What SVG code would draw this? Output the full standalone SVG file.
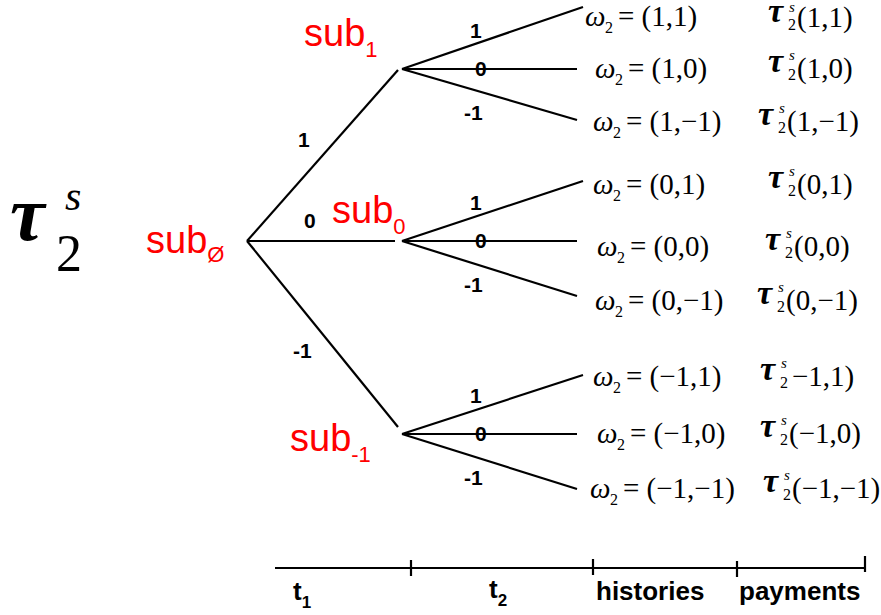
<svg xmlns="http://www.w3.org/2000/svg" width="881" height="615" viewBox="0 0 881 615">
<style>
.e{stroke:#000;stroke-width:2.2;fill:none}
.red{fill:#f00;font-family:"Liberation Sans",Arial,sans-serif;font-size:38px}
.rsub{font-size:22px}
.bl{font-family:"Liberation Sans",Arial,sans-serif;font-weight:bold;font-size:21px;fill:#000}
.tl{font-family:"Liberation Sans",Arial,sans-serif;font-weight:bold;font-size:26px;fill:#000}
.m{font-family:"Liberation Serif","Times New Roman",serif;font-size:29px;fill:#000}
.mi{font-style:italic}
.ms{font-size:16px;font-style:normal}
.tau{font-family:"Liberation Serif","Times New Roman",serif;font-style:italic;font-weight:bold;font-size:34px}
.ss{font-family:"Liberation Serif","Times New Roman",serif;font-style:italic;font-size:15px}
.big{font-family:"Liberation Serif","Times New Roman",serif}
</style>
<g id="title">
<text class="big" x="10" y="240" font-style="italic" font-weight="bold" font-size="78">τ</text>
<text class="big" x="65" y="210" font-style="italic" font-size="42">s</text>
<text class="big" x="56" y="271" font-size="52">2</text>
</g>
<g id="connectors">
<line class="e" x1="247" y1="241" x2="398" y2="70"/>
<line class="e" x1="247" y1="241" x2="395" y2="241"/>
<line class="e" x1="247" y1="241" x2="398" y2="427"/>
<line class="e" x1="402" y1="69" x2="583" y2="7"/>
<line class="e" x1="402" y1="69" x2="577" y2="69"/>
<line class="e" x1="402" y1="69" x2="577" y2="120"/>
<line class="e" x1="402" y1="241" x2="583" y2="181"/>
<line class="e" x1="402" y1="241" x2="577" y2="241"/>
<line class="e" x1="402" y1="241" x2="577" y2="296"/>
<line class="e" x1="402" y1="434" x2="583" y2="375"/>
<line class="e" x1="402" y1="434" x2="577" y2="434"/>
<line class="e" x1="402" y1="434" x2="577" y2="489"/>
</g>
<g id="edge-labels">
<text class="bl" x="298" y="147">1</text>
<text class="bl" x="304" y="228">0</text>
<text class="bl" x="293" y="358">-1</text>
<text class="bl" x="470" y="38">1</text>
<text class="bl" x="475" y="76">0</text>
<text class="bl" x="464" y="120">-1</text>
<text class="bl" x="470" y="210">1</text>
<text class="bl" x="475" y="248">0</text>
<text class="bl" x="464" y="292">-1</text>
<text class="bl" x="470" y="403">1</text>
<text class="bl" x="475" y="441">0</text>
<text class="bl" x="464" y="485">-1</text>
</g>
<g id="node-root"><text class="red" x="146" y="253">sub<tspan class="rsub" dy="9">Ø</tspan></text></g>
<g id="node-sub1"><text class="red" x="304" y="46">sub<tspan class="rsub" dy="11">1</tspan></text></g>
<g id="node-sub0"><text class="red" x="332" y="223">sub<tspan class="rsub" dy="11">0</tspan></text></g>
<g id="node-subm1"><text class="red" x="290" y="451">sub<tspan class="rsub" dy="11">-1</tspan></text></g>
<g id="leaves">
<g id="leaf-1-1"><text class="m mi" x="585" y="26">ω</text><text class="m ms" x="605" y="33">2</text><text class="m" x="618" y="26">= (1,1)</text>
<text class="tau" x="768" y="22">τ</text><text class="ss" x="789" y="12">s</text><text class="m ms" x="788" y="30">2</text><text class="m" x="797" y="27">(1,1)</text></g>
<g id="leaf-1-0"><text class="m mi" x="595" y="78">ω</text><text class="m ms" x="615" y="85">2</text><text class="m" x="628" y="78">= (1,0)</text>
<text class="tau" x="768" y="72">τ</text><text class="ss" x="789" y="60">s</text><text class="m ms" x="788" y="80">2</text><text class="m" x="797" y="78">(1,0)</text></g>
<g id="leaf-1-m1"><text class="m mi" x="593" y="131">ω</text><text class="m ms" x="613" y="138">2</text><text class="m" x="626" y="131">= (1,−1)</text>
<text class="tau" x="758" y="125">τ</text><text class="ss" x="779" y="113">s</text><text class="m ms" x="778" y="133">2</text><text class="m" x="787" y="131">(1,−1)</text></g>
<g id="leaf-0-1"><text class="m mi" x="593" y="194">ω</text><text class="m ms" x="613" y="201">2</text><text class="m" x="626" y="194">= (0,1)</text>
<text class="tau" x="768" y="188">τ</text><text class="ss" x="789" y="176">s</text><text class="m ms" x="788" y="196">2</text><text class="m" x="797" y="194">(0,1)</text></g>
<g id="leaf-0-0"><text class="m mi" x="597" y="256">ω</text><text class="m ms" x="617" y="263">2</text><text class="m" x="630" y="256">= (0,0)</text>
<text class="tau" x="765" y="250">τ</text><text class="ss" x="786" y="238">s</text><text class="m ms" x="785" y="258">2</text><text class="m" x="794" y="256">(0,0)</text></g>
<g id="leaf-0-m1"><text class="m mi" x="595" y="310">ω</text><text class="m ms" x="615" y="317">2</text><text class="m" x="628" y="310">= (0,−1)</text>
<text class="tau" x="757" y="304">τ</text><text class="ss" x="778" y="292">s</text><text class="m ms" x="777" y="312">2</text><text class="m" x="786" y="310">(0,−1)</text></g>
<g id="leaf-m1-1"><text class="m mi" x="593" y="386">ω</text><text class="m ms" x="613" y="393">2</text><text class="m" x="626" y="386">= (−1,1)</text>
<text class="tau" x="760" y="380">τ</text><text class="ss" x="781" y="368">s</text><text class="m ms" x="780" y="388">2</text><text class="m" x="792" y="386">−1,1)</text></g>
<g id="leaf-m1-0"><text class="m mi" x="597" y="443">ω</text><text class="m ms" x="617" y="450">2</text><text class="m" x="630" y="443">= (−1,0)</text>
<text class="tau" x="760" y="437">τ</text><text class="ss" x="781" y="425">s</text><text class="m ms" x="780" y="445">2</text><text class="m" x="789" y="443">(−1,0)</text></g>
<g id="leaf-m1-m1"><text class="m mi" x="590" y="498">ω</text><text class="m ms" x="610" y="505">2</text><text class="m" x="623" y="498">= (−1,−1)</text>
<text class="tau" x="763" y="492">τ</text><text class="ss" x="784" y="480">s</text><text class="m ms" x="783" y="500">2</text><text class="m" x="792" y="498">(−1,−1)</text></g>
</g>
<g id="timeline">
<line class="e" x1="275" y1="568" x2="865" y2="568" stroke-width="3"/>
<line class="e" x1="411" y1="560" x2="411" y2="576" stroke-width="3"/>
<line class="e" x1="593" y1="559" x2="593" y2="575" stroke-width="3"/>
<line class="e" x1="737" y1="561" x2="737" y2="577" stroke-width="3"/>
<line class="e" x1="865" y1="556" x2="865" y2="572" stroke-width="3"/>
<text class="tl" x="293" y="600">t<tspan font-size="17" dy="8">1</tspan></text>
<text class="tl" x="489" y="598">t<tspan font-size="17" dy="8">2</tspan></text>
<text class="tl" x="596" y="600">histories</text>
<text class="tl" x="739" y="600">payments</text>
</g>
</svg>
